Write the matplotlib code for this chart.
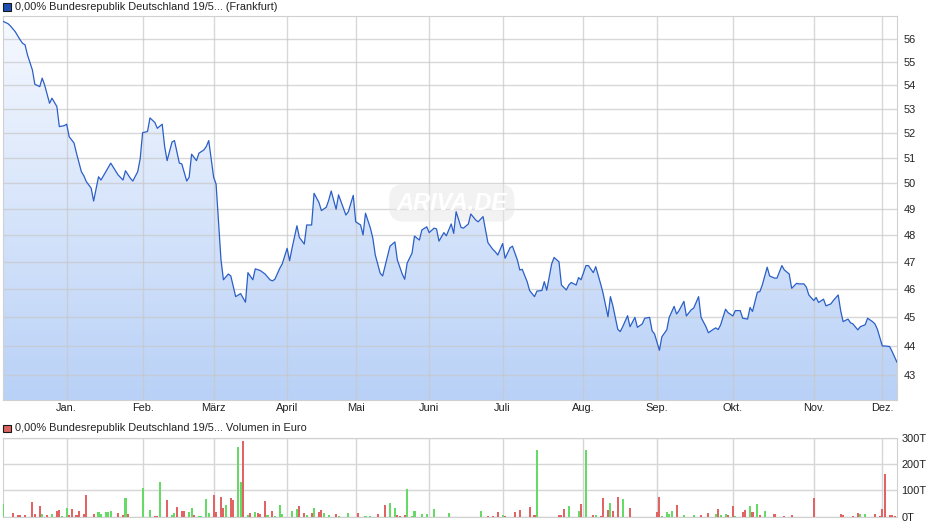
import numpy as np
import matplotlib
matplotlib.use("Agg")
import matplotlib.pyplot as plt
from matplotlib.colors import LinearSegmentedColormap
from matplotlib.patches import Rectangle
from matplotlib.ticker import NullLocator

plt.rcParams['font.family'] = ['Liberation Sans', 'DejaVu Sans']

# Kurs (Tage seit Beginn des Zeitraums, Kurs in %)
price_days = [0, 2, 3, 5, 7, 8, 9, 10, 12, 13, 15, 16, 17, 19, 20, 22, 23, 25, 26, 27,
              29, 30, 32, 33, 34, 36, 37, 39, 40, 42, 44, 47, 49, 50, 52, 53, 55, 56, 57, 59,
              60, 62, 63, 65, 66, 67, 69, 70, 72, 73, 75, 76, 77, 79, 80, 82, 83, 84, 86, 87,
              89, 90, 92, 93, 95, 97, 99, 100, 102, 103, 105, 107, 109, 110, 111, 113, 114, 116, 117, 118,
              120, 121, 123, 124, 126, 127, 129, 130, 132, 133, 134, 136, 137, 138, 140, 141, 143, 144, 146, 147,
              148, 150, 151, 152, 154, 155, 157, 158, 160, 161, 163, 164, 165, 167, 168, 170, 171, 173, 174, 176,
              177, 178, 180, 181, 183, 184, 185, 187, 188, 190, 191, 193, 194, 196, 197, 198, 200, 201, 202, 204,
              205, 207, 208, 210, 211, 212, 214, 215, 217, 218, 220, 221, 222, 224, 225, 227, 228, 230, 231, 232,
              234, 235, 236, 238, 239, 241, 242, 244, 245, 247, 248, 249, 251, 252, 253, 255, 256, 258, 259, 261,
              262, 264, 265, 266, 268, 269, 271, 272, 274, 275, 276, 278, 279, 281, 282, 284, 285, 287, 288, 290,
              291, 292, 293, 295, 296, 298, 299, 301, 302, 304, 305, 306, 308, 309, 310, 312, 313, 315, 316, 318,
              319, 321, 322, 324, 325, 327, 328, 329, 331, 332, 333, 335, 336, 338, 339, 341, 342, 343, 345, 346,
              347, 349, 350, 352, 353, 355, 356, 357, 359, 360, 362, 363, 365]
price = [56.78, 56.68, 56.58, 56.32, 55.96, 55.81, 55.74, 55.30, 54.65, 54.04, 53.94, 54.30, 54.01, 53.24, 53.45, 53.10, 52.27, 52.31, 52.37, 51.86,
         51.60, 51.19, 50.45, 50.29, 50.06, 49.80, 49.30, 50.25, 50.12, 50.45, 50.79, 50.32, 50.12, 50.49, 50.19, 50.08, 50.45, 50.96, 52.02, 52.07,
         52.63, 52.44, 52.20, 52.37, 51.46, 50.89, 51.64, 51.70, 50.79, 50.76, 50.08, 50.23, 51.15, 50.89, 51.19, 51.32, 51.46, 51.70, 50.23, 49.96,
         47.07, 46.34, 46.55, 46.48, 45.73, 45.84, 45.53, 46.60, 46.34, 46.74, 46.68, 46.55, 46.34, 46.30, 46.36, 46.76, 46.92, 47.50, 47.04, 47.50,
         48.35, 47.91, 47.66, 48.38, 48.38, 49.60, 49.24, 48.93, 49.06, 49.34, 49.69, 48.98, 49.54, 49.28, 48.76, 48.89, 49.52, 48.50, 48.38, 48.00,
         48.83, 48.26, 47.88, 47.25, 46.58, 46.48, 47.21, 47.58, 47.74, 47.07, 46.55, 46.36, 46.95, 47.32, 47.96, 47.81, 48.19, 48.31, 48.09, 48.26,
         48.23, 47.77, 48.09, 47.97, 48.42, 48.06, 48.89, 48.29, 48.26, 48.42, 48.80, 48.57, 48.50, 48.70, 48.19, 47.71, 47.46, 47.37, 47.25, 47.68,
         47.13, 47.52, 47.58, 47.07, 46.70, 46.72, 46.27, 45.95, 45.73, 45.93, 45.95, 46.27, 45.96, 46.92, 47.16, 47.00, 46.15, 45.97, 46.15, 46.24,
         46.15, 46.42, 46.34, 46.86, 46.86, 46.60, 46.82, 46.19, 45.85, 45.01, 45.73, 45.40, 44.57, 44.49, 44.66, 45.05, 44.66, 44.99, 44.64, 44.76,
         44.96, 44.99, 44.52, 44.41, 43.84, 44.31, 44.55, 44.99, 45.38, 45.11, 45.23, 45.56, 45.04, 45.26, 45.32, 45.73, 44.99, 44.66, 44.45, 44.57,
         44.62, 44.56, 44.73, 45.28, 45.16, 45.04, 45.23, 45.23, 44.96, 44.93, 45.34, 45.20, 45.89, 45.91, 46.15, 46.80, 46.48, 46.40, 46.40, 46.86,
         46.70, 46.55, 46.03, 46.21, 46.19, 46.19, 46.07, 45.79, 45.59, 45.70, 45.52, 45.64, 45.40, 45.47, 45.59, 45.79, 45.23, 44.84, 44.93, 44.80,
         44.76, 44.55, 44.66, 44.73, 44.96, 44.84, 44.76, 44.57, 43.99, 43.99, 43.97, 43.80, 43.43]

# Volumen (Tausend Euro), g = steigend, r = fallend
vol_days = [0, 4, 6, 7, 9, 12, 13, 15, 16, 18, 20, 22, 23, 24, 26, 27, 28, 30, 31, 33,
            34, 37, 39, 40, 42, 43, 44, 47, 49, 50, 51, 57, 60, 62, 63, 64, 67, 69, 70, 71,
            73, 74, 76, 77, 78, 80, 81, 83, 84, 86, 87, 89, 90, 91, 93, 94, 96, 97, 98, 100,
            101, 103, 104, 105, 107, 108, 110, 111, 113, 114, 118, 120, 121, 123, 124, 126, 127, 129, 130, 131,
            133, 136, 137, 141, 145, 148, 150, 153, 156, 158, 160, 161, 162, 164, 165, 167, 168, 171, 173, 176,
            182, 195, 198, 200, 202, 204, 205, 209, 211, 215, 217, 218, 227, 228, 229, 231, 235, 236, 238, 241,
            242, 244, 245, 247, 248, 249, 251, 253, 256, 267, 268, 269, 271, 272, 273, 275, 278, 282, 285, 288,
            291, 292, 293, 295, 296, 298, 299, 302, 303, 305, 306, 308, 309, 311, 315, 319, 322, 331, 342, 343,
            347, 349, 350, 352, 356, 358, 359, 360, 362, 363, 364]
vol = [48, 13, 5, 5, 5, 56, 10, 40, 10, 5, 10, 20, 25, 3, 33, 5, 29, 5, 22, 10,
       82, 10, 16, 10, 16, 16, 22, 14, 6, 71, 10, 109, 25, 3, 3, 132, 63, 6, 14, 37,
       22, 22, 18, 33, 6, 3, 3, 67, 14, 82, 18, 75, 33, 44, 71, 63, 265, 132, 287, 6,
       14, 18, 14, 10, 59, 6, 22, 3, 44, 10, 22, 29, 40, 14, 6, 14, 33, 18, 25, 14,
       6, 10, 3, 14, 14, 3, 3, 10, 44, 52, 33, 6, 3, 6, 105, 3, 22, 10, 10, 29,
       14, 22, 3, 3, 18, 6, 3, 18, 25, 37, 6, 253, 6, 6, 29, 40, 22, 48, 253, 6,
       6, 3, 71, 25, 52, 22, 75, 67, 33, 18, 75, 3, 18, 10, 22, 44, 6, 6, 6, 14,
       10, 29, 6, 10, 6, 40, 3, 18, 25, 40, 18, 48, 6, 22, 10, 3, 6, 71, 10, 6,
       3, 14, 10, 10, 10, 3, 29, 162, 6, 6, 3]
vol_dir = ("g r r r r r r r g r g r r g g r r r r r "
           "r r g g g g g r r g r g g r r g r g g r "
           "r r g g r g g g g r r r r g r r g g r g "
           "r g r r r g r g g g g g r r g r g r r g "
           "g r g g r g g r r g g r r r g g g g g g "
           "g g r r r g r r r r r g r r r g g r g r "
           "g r r r g r r g r r r g g g g r g g r r "
           "g r g g r r g r r g r g r g r r r r r r "
           "r r g g r r r r r r r").split()

month_pos = [26, 57, 86, 116, 144, 174, 204, 237, 267, 298, 331, 359]
month_labels = ["Jan.", "Feb.", "März", "April", "Mai", "Juni", "Juli",
                "Aug.", "Sep.", "Okt.", "Nov.", "Dez."]
price_ticks = list(range(43, 57))
vol_ticks = [0, 100, 200, 300]
vol_labels = ["0T", "100T", "200T", "300T"]

W, H = 940, 526
fs = 7.9
fig = plt.figure(figsize=(W / 100, H / 100), dpi=100)
ax = fig.add_axes([3 / W, 126 / H, 894 / W, 384 / H])
axv = fig.add_axes([3 / W, 9.3 / H, 894 / W, 79 / H])

ymin, ymax = 42.16, 57.02
ax.set_yscale('log')

# Fläche unter der Kurve mit Farbverlauf
poly = ax.fill_between(price_days, price, ymin, facecolor='none', edgecolor='none')
cmap = LinearSegmentedColormap.from_list('blau', ['#f6f9ff', '#b9d1f7'])
grad = np.linspace(0, 1, 256).reshape(-1, 1)
im = ax.imshow(grad, cmap=cmap, aspect='auto', extent=(0, 1, 0, 1),
               transform=ax.transAxes, origin='upper', zorder=0)
im.set_clip_path(poly.get_paths()[0], transform=ax.transData)

ax.plot(price_days, price, color='#2b5fc7', lw=0.9, zorder=3)
ax.set_xlim(0, 365)
ax.set_ylim(ymin, ymax)

ax.set_yticks(price_ticks, [str(t) for t in price_ticks])
ax.yaxis.set_minor_locator(NullLocator())
ax.set_xticks(month_pos, month_labels)
ax.grid(True, color='#c8c8c8', lw=1, alpha=0.7)
ax.tick_params(axis='y', left=False, right=True, labelleft=False, labelright=True,
               length=0, pad=4.5, labelsize=fs, labelcolor='#222222')
ax.tick_params(axis='x', length=0, pad=2.5, labelsize=fs, labelcolor='#222222')

# Wasserzeichen
ax.text(0.502, 0.513, "ARIVA.DE", transform=ax.transAxes, ha='center', va='center',
        fontsize=17, fontweight='bold', fontstyle='italic', color='white', zorder=2,
        bbox=dict(boxstyle='round,pad=0.3,rounding_size=0.6', fc='#e4e4e4', ec='none', alpha=0.45))

# Volumen
colors = ['#66d966' if d == 'g' else '#e06464' for d in vol_dir]
axv.bar(vol_days, vol, width=0.85, color=colors, zorder=3)
axv.set_xlim(0, 365)
axv.set_ylim(0, 300)
axv.set_yticks(vol_ticks, vol_labels)
axv.set_xticks(month_pos, [])
axv.grid(True, color='#d6d6d6', lw=1)
axv.tick_params(axis='y', left=False, right=True, labelleft=False, labelright=True,
                length=0, pad=3, labelsize=fs, labelcolor='#222222')
axv.tick_params(axis='x', length=0)

for a in (ax, axv):
    for s in a.spines.values():
        s.set_color('#d0d0d0')

# Legenden oben links
fig.add_artist(Rectangle((3 / W, 1 - 10.5 / H), 7.5 / W, 7.5 / H, transform=fig.transFigure,
                         facecolor='#1d4fb5', edgecolor='#1a1a1a', lw=0.8))
fig.text(15 / W, 1 - 6.5 / H, "0,00% Bundesrepublik Deutschland 19/5... (Frankfurt)",
         fontsize=fs, va='center', ha='left', color='#222222')
fig.add_artist(Rectangle((3 / W, 1 - 432 / H), 7.5 / W, 7.5 / H, transform=fig.transFigure,
                         facecolor='#dc6460', edgecolor='#1a1a1a', lw=0.8))
fig.text(15 / W, 1 - 428 / H, "0,00% Bundesrepublik Deutschland 19/5... Volumen in Euro",
         fontsize=fs, va='center', ha='left', color='#222222')

fig.savefig("out.png", dpi=100)
